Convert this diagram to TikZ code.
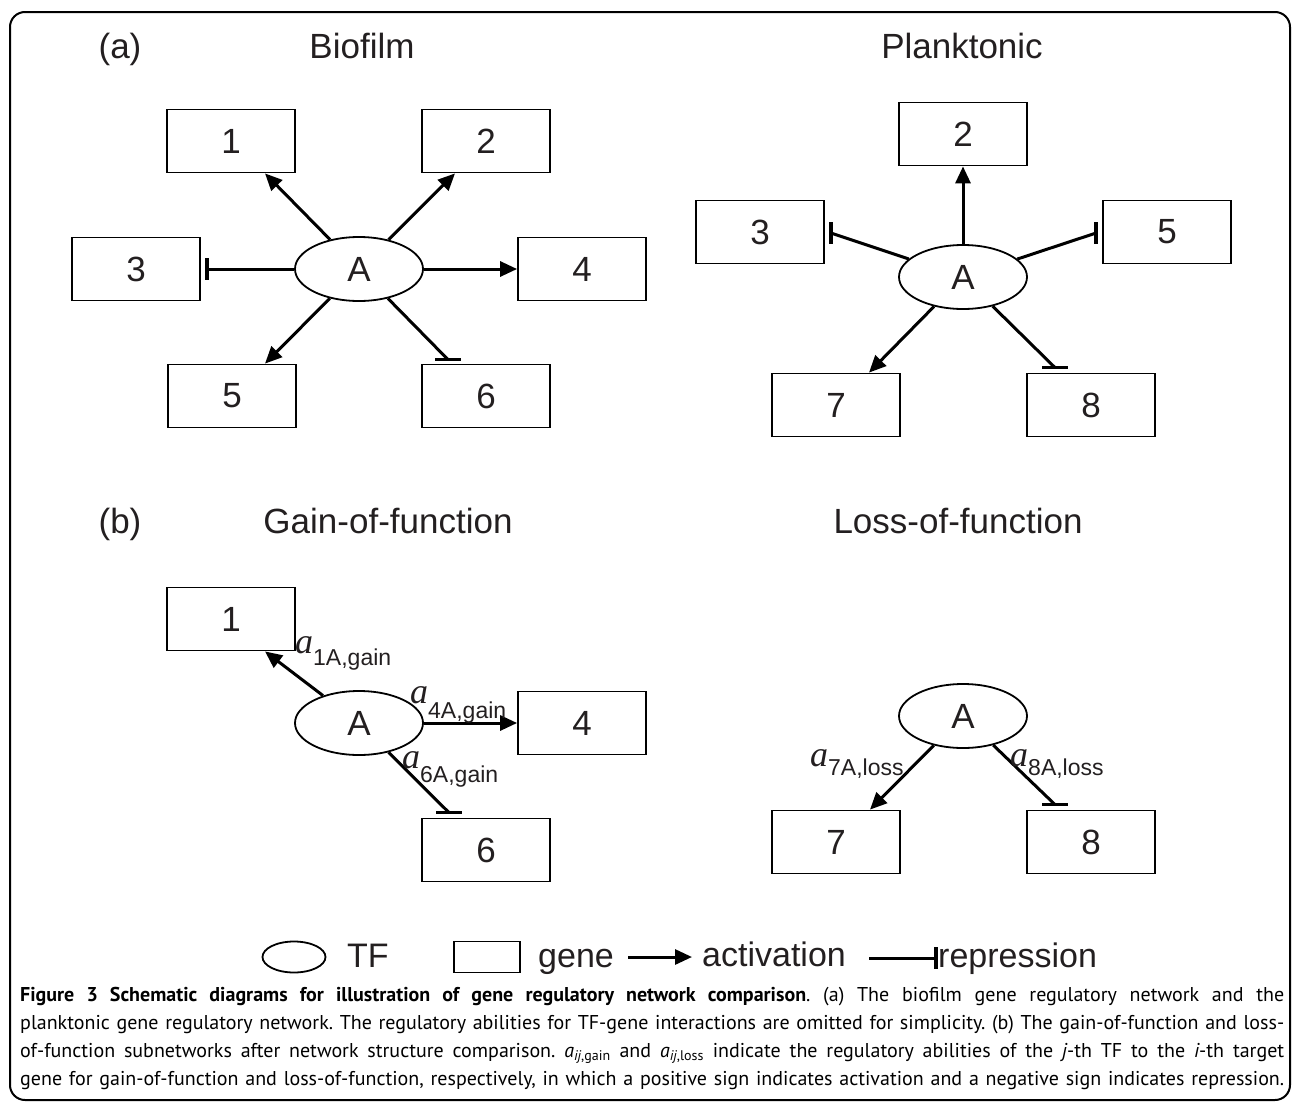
\documentclass[tikz,border=0pt]{standalone}
\usepackage{fontspec}
\setmainfont{Liberation Sans}
\newfontfamily\tnr{Liberation Serif}
\newfontfamily\capfont{PT Sans}
\usetikzlibrary{arrows.meta,calc,shapes.geometric}
\definecolor{ink}{HTML}{231F20}
\newcommand\albl[2]{{\tnr\itshape\fontsize{36}{36}\selectfont a}\raisebox{#2}{\fontsize{23}{23}\selectfont #1}}
\begin{document}
\begin{tikzpicture}[x=1pt,y=-1pt,
  gene/.style={draw,line width=1.8pt,minimum width=128pt,minimum height=63pt,inner sep=0pt,font=\fontsize{35}{35}\selectfont,text=ink},
  tf/.style={ellipse,draw,line width=1.8pt,minimum width=128pt,minimum height=64pt,inner sep=0pt,font=\fontsize{35}{35}\selectfont,text=ink},
  act/.style={line width=3pt,-{Triangle[length=17pt,width=15pt]}},
  rep/.style={line width=3pt},
  bar/.style={line width=3.5pt},
  ttl/.style={font=\fontsize{35}{35}\selectfont,text=ink,anchor=base,inner sep=0pt},
  lbl/.style={anchor=base west,inner sep=0pt,text=ink},
  leg/.style={font=\fontsize{34}{34}\selectfont,text=ink,anchor=base west,inner sep=0pt},
]
\useasboundingbox (0,0) rectangle (1293,1103);
\draw[line width=2pt,rounded corners=15pt] (10,12) rectangle (1290,1100);

% titles
\node[ttl] (ta) at (120,58) {(a)};
\node[ttl] (tbio) at (362,58) {Biofilm};
\node[ttl] (tpl) at (962,58) {Planktonic};
\node[ttl] (tb) at (120,533) {(b)};
\node[ttl] (tgain) at (388,533) {Gain-of-function};
\node[ttl] (tloss) at (958,533) {Loss-of-function};

% ---------- Biofilm ----------
\node[tf] (A1) at (359,269) {A};
\node[gene] (a1) at (231,141) {1};
\node[gene] (a2) at (486,141) {2};
\node[gene] (a3) at (136,269) {3};
\node[gene] (a4) at (582,269) {4};
\node[gene] (a5) at (232,396) {5};
\node[gene] (a6) at (486,396) {6};
\draw[act] (A1) -- ($(a1.south)+(34,0)$);
\draw[act] (A1) -- ($(a2.south)+(-31,0)$);
\draw[act] (A1.east) -- (a4.west);
\draw[act] (A1) -- ($(a5.north)+(33,0)$);
\coordinate (e3) at ($(a3.east)+(6,0)$);
\draw[rep] (A1) -- (e3);
\draw[bar] ($(e3)+(0,-11)$) -- ($(e3)+(0,11)$);
\coordinate (e6) at ($(a6.north)+(-38,-4)$);
\draw[rep] (A1) -- (e6);
\draw[bar] ($(e6)+(-13,0)$) -- ($(e6)+(13,0)$);

% ---------- Planktonic ----------
\node[tf] (A2) at (963,277) {A};
\node[gene] (p2) at (963,134) {2};
\node[gene] (p3) at (760,232) {3};
\node[gene] (p5) at (1167,232) {5};
\node[gene] (p7) at (836,405) {7};
\node[gene] (p8) at (1091,405) {8};
\draw[act] (A2.north) -- (p2.south);
\draw[act] (A2) -- ($(p7.north)+(33,0)$);
\coordinate (f3) at ($(p3.east)+(6,1)$);
\draw[rep] (A2) -- (f3);
\draw[bar] ($(f3)+(0,-11)$) -- ($(f3)+(0,11)$);
\coordinate (f5) at ($(p5.west)+(-6,1)$);
\draw[rep] (A2) -- (f5);
\draw[bar] ($(f5)+(0,-11)$) -- ($(f5)+(0,11)$);
\coordinate (f8) at ($(p8.north)+(-36,-5)$);
\draw[rep] (A2) -- (f8);
\draw[bar] ($(f8)+(-13,0)$) -- ($(f8)+(13,0)$);

% ---------- Gain-of-function ----------
\node[tf] (A3) at (359,723) {A};
\node[gene] (g1) at (231,619) {1};
\node[gene] (g4) at (582,723) {4};
\node[gene] (g6) at (486,850) {6};
\draw[act] (A3) -- ($(g1.south)+(34,0)$);
\draw[act] (A3.east) -- (g4.west);
\coordinate (h6) at ($(g6.north)+(-37,-5)$);
\draw[rep] (A3) -- (h6);
\draw[bar] ($(h6)+(-13,0)$) -- ($(h6)+(13,0)$);
\node[lbl] (l1) at (295,653) {\albl{1A,gain}{-12pt}};
\node[lbl] (l4) at (410,703) {\albl{4A,gain}{-15pt}};
\node[lbl] (l6) at (402,768) {\albl{6A,gain}{-14pt}};

% ---------- Loss-of-function ----------
\node[tf] (A4) at (963,716) {A};
\node[gene] (m7) at (836,842) {7};
\node[gene] (m8) at (1091,842) {8};
\draw[act] (A4) -- ($(m7.north)+(34,0)$);
\coordinate (k8) at ($(m8.north)+(-36,-5)$);
\draw[rep] (A4) -- (k8);
\draw[bar] ($(k8)+(-13,0)$) -- ($(k8)+(13,0)$);
\node[lbl] (l7) at (810,766) {\albl{7A,loss}{-9pt}};
\node[lbl] (l8) at (1010,766) {\albl{8A,loss}{-9pt}};

% ---------- Legend ----------
\node[ellipse,draw,line width=1.8pt,minimum width=63pt,minimum height=31pt,inner sep=0pt] (legE) at (294,957) {};
\node[leg] (legTF) at (347,967) {TF};
\node[draw,line width=1.8pt,minimum width=66pt,minimum height=31pt,inner sep=0pt] (legB) at (487,957) {};
\node[leg] (legG) at (538,967) {gene};
\coordinate (la1) at (628,957);
\coordinate (la2) at (692,957);
\draw[act] (la1) -- (la2);
\node[leg] (legA) at (702,966) {activation};
\coordinate (lr1) at (869,958);
\coordinate (lr2) at (936,958);
\draw[rep] (lr1) -- (lr2);
\draw[bar] ($(lr2)+(0,-11)$) -- ($(lr2)+(0,11)$);
\node[leg] (legR) at (938,967) {repression};

% ---------- Caption ----------
\node[anchor=north west,inner sep=0pt,font=\capfont\fontsize{20}{28}\selectfont\frenchspacing,text=black] (cap) at (20,987) {\vbox{\baselineskip=28pt
\hbox to 1264pt{\textbf{Figure 3 Schematic diagrams for illustration of gene regulatory network comparison}. (a) The biofilm gene regulatory network and the}%
\hbox to 1264pt{planktonic gene regulatory network. The regulatory abilities for TF-gene interactions are omitted for simplicity. (b) The gain-of-function and loss-}%
\hbox to 1264pt{of-function subnetworks after network structure comparison. {\itshape a}\textsubscript{{\itshape ij},gain} and {\itshape a}\textsubscript{{\itshape ij},loss} indicate the regulatory abilities of the {\itshape j}-th TF to the {\itshape i}-th target}%
\hbox to 1264pt{gene for gain-of-function and loss-of-function, respectively, in which a positive sign indicates activation and a negative sign indicates repression.}%
}};
\end{tikzpicture}
\end{document}
